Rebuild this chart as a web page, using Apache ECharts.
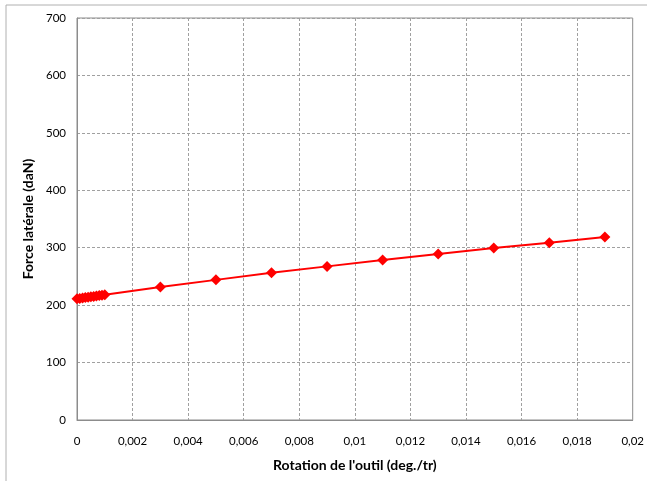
<!DOCTYPE html>
<html><head><meta charset="utf-8">
<script src="https://cdn.jsdelivr.net/npm/echarts@6/dist/echarts.min.js"></script>
<style>html,body{margin:0;padding:0;background:#fff}#c{width:647px;height:481px}</style>
</head><body><div id="c"></div>
<script>
var rotation = [0, 0.0001, 0.0002, 0.0003, 0.0004, 0.0005, 0.0006, 0.0007, 0.0008, 0.0009, 0.001, 0.003, 0.005, 0.007, 0.009, 0.011, 0.013, 0.015, 0.017, 0.019];
var force = [211, 211.7, 212.4, 213.1, 213.8, 214.5, 215.2, 215.9, 216.6, 217.3, 218, 231.5, 244, 256.5, 267.5, 278.5, 289, 299.5, 308.5, 318.5];
var xTitle = "Rotation de l'outil (deg./tr)";
var yTitle = "Force latérale (daN)";

var chart = echarts.init(document.getElementById('c'));
var font = 'Lato, "Open Sans", sans-serif';
function fmt(v){ return String(parseFloat(v.toFixed(4))).replace('.', ','); }
chart.setOption({
  animation: false,
  textStyle: { fontFamily: font },
  graphic: [{ type: 'rect', shape: { x: 6, y: 5, width: 700, height: 600 }, style: { fill: 'none', stroke: '#b0b0b0', lineWidth: 1 }, silent: true }],
  grid: { left: 77, top: 18, right: 13, bottom: 61, show: true, borderColor: '#8c8c8c', borderWidth: 1 },
  xAxis: {
    type: 'value', min: 0, max: 0.02, interval: 0.002,
    name: xTitle, nameLocation: 'middle', nameGap: 38,
    nameTextStyle: { fontFamily: font, fontWeight: 'bold', fontSize: 14, color: '#000' },
    axisLine: { show: true, lineStyle: { color: '#8c8c8c' } },
    axisTick: { show: false },
    axisLabel: { formatter: fmt, color: '#000', fontSize: 11.5, margin: 15, fontFamily: font },
    splitLine: { show: true, lineStyle: { type: [3, 2], color: '#a0a0a0', width: 1 } }
  },
  yAxis: {
    type: 'value', min: 0, max: 700, interval: 100,
    name: yTitle, nameLocation: 'middle', nameGap: 38, nameRotate: 90,
    nameTextStyle: { fontFamily: font, fontWeight: 'bold', fontSize: 14, color: '#000' },
    axisLine: { show: true, lineStyle: { color: '#8c8c8c' } },
    axisTick: { show: false },
    axisLabel: { color: '#000', fontSize: 11.5, margin: 11, fontFamily: font },
    splitLine: { show: true, lineStyle: { type: [3, 2], color: '#a0a0a0', width: 1 } }
  },
  series: [{
    type: 'line',
    data: rotation.map(function(x, i){ return [x, force[i]]; }),
    symbol: 'diamond', symbolSize: 11,
    lineStyle: { color: '#ff0000', width: 2 },
    itemStyle: { color: '#ff0000' }
  }]
});
</script></body></html>
